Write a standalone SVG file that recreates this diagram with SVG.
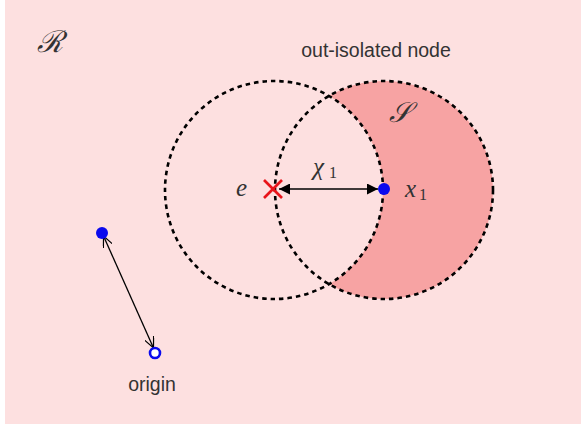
<svg xmlns="http://www.w3.org/2000/svg" width="581" height="427" viewBox="0 0 581 427">
<style>
.bg{fill:#ffffff}
.region{fill:#fde0e0}
.dash{fill:none;stroke:#000;stroke-width:2.6;stroke-dasharray:4.5 4}
.math{font-family:"Liberation Serif","DejaVu Serif",serif;font-style:italic;fill:#333}
.sub{font-family:"Liberation Serif","DejaVu Serif",serif;font-style:normal;fill:#333}
.lbl{font-family:"Liberation Sans","Arial",sans-serif;font-size:19.5px;fill:#333}
.cal{font-family:"DejaVu Serif","Liberation Serif",serif;fill:#333}
</style>
<defs>
<marker id="tri" viewBox="0 0 10 10" refX="10" refY="5" markerWidth="11" markerHeight="11" markerUnits="userSpaceOnUse" orient="auto-start-reverse">
<path d="M0,0 L10,5 L0,10 z" fill="#000"/>
</marker>
<marker id="open" viewBox="0 0 12 10" refX="11" refY="5" markerWidth="12" markerHeight="10" markerUnits="userSpaceOnUse" orient="auto-start-reverse">
<path d="M0,0 L11,5 L0,10" fill="none" stroke="#000" stroke-width="1.2"/>
</marker>
<clipPath id="outsideLeft">
<path d="M0,0 H581 V427 H0 Z M274,190 m-109,0 a109,109 0 1,0 218,0 a109,109 0 1,0 -218,0 Z" clip-rule="evenodd"/>
</clipPath>
</defs>
<rect class="bg" x="0" y="0" width="581" height="427"/>
<rect class="region" x="5" y="0" width="576" height="424"/>
<g id="region-R">
<text class="cal" x="37" y="52" font-size="30" font-style="italic">ℛ</text>
</g>
<g id="set-S">
<circle cx="384" cy="190" r="109" fill="#f7a3a3" clip-path="url(#outsideLeft)"/>
<text class="cal" x="389" y="122" font-size="28" font-style="italic">𝒮</text>
</g>
<g id="circles">
<circle class="dash" cx="274" cy="190" r="109"/>
<circle class="dash" cx="384" cy="190" r="109"/>
</g>
<g id="connectors">
<line x1="279" y1="189" x2="378" y2="189" stroke="#000" stroke-width="1.5" marker-start="url(#tri)" marker-end="url(#tri)"/>
<line x1="103.5" y1="236" x2="153.5" y2="348" stroke="#000" stroke-width="1.3" marker-start="url(#open)" marker-end="url(#open)"/>
</g>
<g id="node-e">
<line x1="264" y1="180" x2="282" y2="198" stroke="#e8141a" stroke-width="2.6"/>
<line x1="264" y1="198" x2="282" y2="180" stroke="#e8141a" stroke-width="2.6"/>
<text class="math" x="236" y="196" font-size="25">e</text>
</g>
<g id="label-chi">
<text class="math" x="313" y="175" font-size="25">χ</text>
<text class="sub" x="329" y="178" font-size="16">1</text>
</g>
<g id="node-x1">
<circle cx="384" cy="189" r="6" fill="#0a0aee"/>
<text class="math" x="405" y="197" font-size="25">x</text>
<text class="sub" x="419" y="200" font-size="16">1</text>
<text class="lbl" x="376" y="57" text-anchor="middle">out-isolated node</text>
</g>
<g id="node-a">
<circle cx="102" cy="233" r="6" fill="#0a0aee"/>
</g>
<g id="node-origin">
<circle cx="155" cy="353" r="5" fill="#fff" stroke="#0a0aee" stroke-width="2.6"/>
<text class="lbl" x="152" y="391" text-anchor="middle">origin</text>
</g>
</svg>
